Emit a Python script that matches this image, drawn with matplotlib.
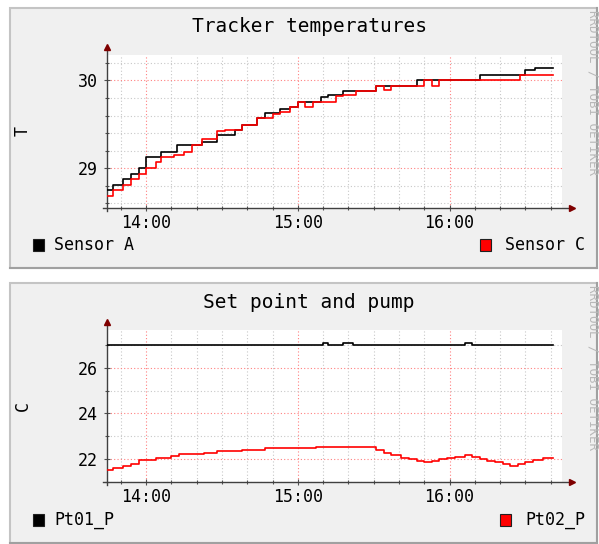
import matplotlib
matplotlib.use("Agg")
import matplotlib.pyplot as plt
from matplotlib.patches import Rectangle
from matplotlib.ticker import MultipleLocator, FuncFormatter

W, H = 599, 544
MONO = "DejaVu Sans Mono"

# Tracker temperatures (times where the value changes, last entry = end of data)
sensor_a_time = ["13:44", "13:47", "13:51", "13:54", "13:57", "14:00", "14:06", "14:12",
                 "14:22", "14:28", "14:35", "14:38", "14:44", "14:47", "14:53", "14:57",
                 "15:00", "15:09", "15:12", "15:18", "15:31", "15:47", "16:12", "16:30",
                 "16:34", "16:41"]
sensor_a = [28.75, 28.81, 28.88, 28.94, 29.00, 29.13, 29.18, 29.26,
            29.30, 29.38, 29.44, 29.49, 29.57, 29.63, 29.68, 29.70,
            29.75, 29.81, 29.83, 29.88, 29.94, 30.00, 30.065, 30.12,
            30.14, 30.14]

sensor_c_time = ["13:44", "13:47", "13:51", "13:54", "13:57", "14:00", "14:04", "14:06",
                 "14:11", "14:15", "14:18", "14:22", "14:28", "14:31", "14:38", "14:44",
                 "14:50", "14:53", "14:57", "15:00", "15:03", "15:06", "15:11", "15:15",
                 "15:18", "15:23", "15:31", "15:34", "15:37", "15:50", "15:53", "15:56",
                 "16:28", "16:41"]
sensor_c = [28.68, 28.75, 28.81, 28.88, 28.94, 29.00, 29.07, 29.13,
            29.15, 29.19, 29.26, 29.33, 29.42, 29.44, 29.49, 29.57,
            29.62, 29.64, 29.70, 29.75, 29.70, 29.75, 29.76, 29.82,
            29.83, 29.88, 29.94, 29.89, 29.94, 30.00, 29.94, 30.00,
            30.065, 30.065]

# Set point and pump
pt01_time = ["13:44", "15:10", "15:12", "15:18", "15:22", "16:06", "16:09", "16:41"]
pt01 = [27.0, 27.07, 27.0, 27.07, 27.0, 27.07, 27.0, 27.0]

pt02_time = ["13:44", "13:47", "13:51", "13:54", "13:57", "14:04", "14:10", "14:13",
             "14:23", "14:28", "14:38", "14:47", "15:07", "15:31", "15:34", "15:37",
             "15:41", "15:44", "15:47", "15:50", "15:53", "15:56", "15:59", "16:02",
             "16:06", "16:09", "16:12", "16:15", "16:18", "16:21", "16:24", "16:27",
             "16:30", "16:33", "16:37", "16:41"]
pt02 = [21.53, 21.61, 21.72, 21.80, 21.96, 22.07, 22.15, 22.22,
        22.29, 22.36, 22.42, 22.48, 22.54, 22.40, 22.28, 22.17,
        22.07, 22.00, 21.93, 21.86, 21.93, 22.00, 22.05, 22.10,
        22.18, 22.08, 22.00, 21.93, 21.86, 21.80, 21.72, 21.80,
        21.87, 21.98, 22.05, 22.05]

x_start, x_end = "13:44.5", "16:44.5"


def mins(s):
    h, m = s.split(":")
    return int(h) * 60 + float(m)


def hhmm(v, pos):
    v = int(round(v))
    return "%02d:%02d" % (v // 60, v % 60)


def fx(px):
    return px / W


def fy(py):
    return 1 - py / H


fig = plt.figure(figsize=(W / 100, H / 100), dpi=100)
fig.patch.set_facecolor("white")


def panel(top, bottom):
    fig.add_artist(Rectangle((fx(10), fy(bottom)), fx(597) - fx(10), fy(top) - fy(bottom),
                             transform=fig.transFigure, facecolor="#f0f0f0",
                             edgecolor="#c4c4c4", lw=1.5, zorder=-10))
    # darker shade on bottom/right like rrdtool
    fig.add_artist(plt.Line2D([fx(10), fx(597)], [fy(bottom), fy(bottom)],
                              transform=fig.transFigure, color="#a0a0a0", lw=1.5, zorder=-9))
    fig.add_artist(plt.Line2D([fx(597), fx(597)], [fy(bottom), fy(top)],
                              transform=fig.transFigure, color="#a0a0a0", lw=1.5, zorder=-9))


def draw(top_px, bottom_px, title, ylabel, ylim, minor_y, major_y, series, legend):
    panel_top = top_px - 47
    panel(panel_top, panel_top + 260)
    ax = fig.add_axes([fx(107), fy(bottom_px), fx(562) - fx(107), fy(top_px) - fy(bottom_px)])
    ax.set_facecolor("white")
    for t, v, c in series:
        xs = [mins(s) for s in t]
        ax.step(xs, v, where="post", color=c, lw=1.2, zorder=3)
    ax.set_xlim(mins(x_start), mins(x_end))
    ax.set_ylim(*ylim)
    ax.xaxis.set_major_locator(MultipleLocator(60))
    ax.xaxis.set_minor_locator(MultipleLocator(10))
    ax.xaxis.set_major_formatter(FuncFormatter(hhmm))
    ax.yaxis.set_major_locator(MultipleLocator(major_y))
    ax.yaxis.set_minor_locator(MultipleLocator(minor_y))
    ax.yaxis.set_major_formatter(FuncFormatter(lambda v, p: "%d" % round(v)))
    ax.grid(which="minor", color="#c8c8c8", linestyle=(0, (1, 2)), lw=0.8)
    ax.grid(which="major", color="#ff8080", linestyle=(0, (1, 2)), lw=0.8)
    for s in ax.spines.values():
        s.set_visible(False)
    ax.tick_params(which="both", direction="inout", color="#505050", width=0.8,
                   labelsize=12, pad=4)
    ax.tick_params(axis="x", which="major", pad=2)
    ax.tick_params(which="major", length=5)
    ax.tick_params(which="minor", length=3)
    for lab in ax.get_xticklabels() + ax.get_yticklabels():
        lab.set_family(MONO)
    # axes with arrows
    xr = (572 - 107) / (562 - 107)
    yr = (bottom_px - (top_px - 8)) / (bottom_px - top_px)
    ax.plot([-0.008, xr], [0, 0], transform=ax.transAxes, clip_on=False, color="#404040", lw=1)
    ax.plot([0, 0], [-0.02, yr], transform=ax.transAxes, clip_on=False, color="#404040", lw=1)
    ax.plot([xr], [0], marker=">", ms=5, color="#7f0000", transform=ax.transAxes, clip_on=False)
    ax.plot([0], [yr], marker="^", ms=5, color="#7f0000", transform=ax.transAxes, clip_on=False)

    fig.text(fx(309), fy(panel_top + 19), title, ha="center", va="center",
             family=MONO, fontsize=14)
    fig.text(fx(23), fy((top_px + bottom_px) / 2), ylabel, ha="center", va="center",
             rotation=90, family=MONO, fontsize=12)
    fig.text(fx(593), fy(panel_top + 2), "RRDTOOL / TOBI OETIKER", rotation=270,
             ha="center", va="top", family=MONO, fontsize=9, color="#b8b8b8")
    # legend
    ly = panel_top + 237
    (n1, c1), (n2, c2) = legend
    fig.add_artist(Rectangle((fx(33), fy(ly + 6)), 11 / W, 12 / H, transform=fig.transFigure,
                             facecolor=c1, edgecolor="#202020", lw=0.8))
    fig.text(fx(54), fy(ly), n1, ha="left", va="center", family=MONO, fontsize=12)
    bx = 585 - len(n2) * 10.05 - 25
    fig.add_artist(Rectangle((fx(bx), fy(ly + 6)), 11 / W, 12 / H, transform=fig.transFigure,
                             facecolor=c2, edgecolor="#202020", lw=0.8))
    fig.text(fx(585), fy(ly), n2, ha="right", va="center", family=MONO, fontsize=12)
    return ax


draw(55, 208, "Tracker temperatures", "T", (28.547, 30.29), 0.2, 1,
     [(sensor_a_time, sensor_a, "black"), (sensor_c_time, sensor_c, "#ff0000")],
     [("Sensor A", "black"), ("Sensor C", "#ff0000")])
draw(330, 482, "Set point and pump", "C", (21.0, 27.65), 1, 2,
     [(pt01_time, pt01, "black"), (pt02_time, pt02, "#ff0000")],
     [("Pt01_P", "black"), ("Pt02_P", "#ff0000")])

fig.savefig("out.png", dpi=100)
